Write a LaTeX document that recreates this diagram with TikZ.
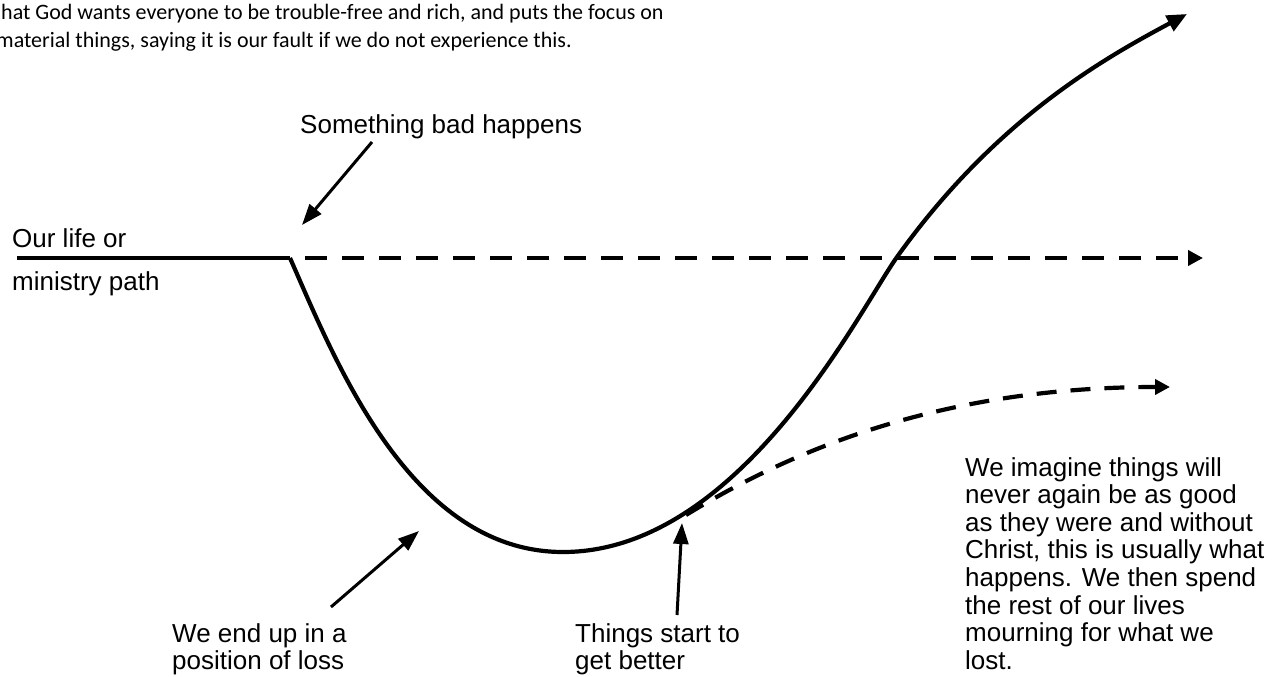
\documentclass[tikz,border=0pt]{standalone}
\usepackage{fontspec}
\setmainfont{Liberation Sans}
\newfontfamily\introfont{Carlito}
\usetikzlibrary{arrows.meta}
\begin{document}
\begin{tikzpicture}[x=1pt,y=-1pt,
  mainline/.style={line width=4.2pt},
  dashline/.style={line width=4.2pt,dash pattern=on 22pt off 15pt},
  bighead/.style={-{Triangle[length=20pt,width=17pt]}},
  smallhead/.style={-{Triangle[length=15pt,width=15pt]}},
  ann/.style={line width=3pt,-{Triangle[length=21pt,width=15pt]}},
  lbl/.style={inner sep=0pt,anchor=north west,align=left,font=\fontsize{26}{27.6}\selectfont},
  intro/.style={inner sep=0pt,anchor=base west,font=\introfont\fontsize{22}{28}\selectfont}]
\useasboundingbox (0,0) rectangle (1285,677);
\clip (0,0) rectangle (1285,677);
\fill[white] (0,0) rectangle (1285,677);

% intro text (cut at the left edge)
\node[intro] (introA) at (1,20) {hat God wants everyone to be trouble-free and rich, and puts the focus on};
\node[intro] (introB) at (-4,48) {material things, saying it is our fault if we do not experience this.};

% labels
\node[lbl] (bad) at (300,114) {Something bad happens};
\node[lbl] (path) at (12,228) {Our life or\\[15.4pt]ministry path};
\node[lbl] (loss) at (172,623) {We end up in a\\position of loss};
\node[lbl] (better) at (575,623) {Things start to\\get better};
\node[lbl] (imagine) at (965,457) {We imagine things will\\never again be as good\\as they were and without\\Christ, this is usually what\\happens. We then spend\\the rest of our lives\\mourning for what we\\lost.};

% path coordinates
\coordinate (start) at (17,258);
\coordinate (corner) at (290,258);
\coordinate (bottom) at (563,552);
\coordinate (cross) at (897,257);
\coordinate (topEnd) at (1187,14);
\coordinate (dashStart) at (305,258);
\coordinate (dashEnd) at (1203,258);
\coordinate (branch) at (686,515);
\coordinate (lowEnd) at (1170,387);

% main solid line
\draw[mainline] (start) -- (corner);
\draw[mainline,bighead] (corner)
  .. controls (335,360) and (410,552) .. (bottom)
  .. controls (740,552) and (860,309) .. (cross)
  .. controls (997,117) and (1107,57) .. (topEnd);

% straight dashed continuation
\draw[dashline,smallhead] (dashStart) -- (dashEnd);

% lower dashed branch
\draw[dashline,dash pattern=on 20pt off 14pt,smallhead] (branch)
  .. controls (800,445) and (950,387) .. (lowEnd);

% annotation arrows
\coordinate (badTail) at (372,142);
\coordinate (badTip) at (302,225);
\coordinate (lossTail) at (331,607);
\coordinate (lossTip) at (419,531);
\coordinate (betterTail) at (677,615);
\coordinate (betterTip) at (682,523);
\draw[ann] (badTail) -- (badTip);
\draw[ann] (lossTail) -- (lossTip);
\draw[ann] (betterTail) -- (betterTip);
\end{tikzpicture}
\end{document}
